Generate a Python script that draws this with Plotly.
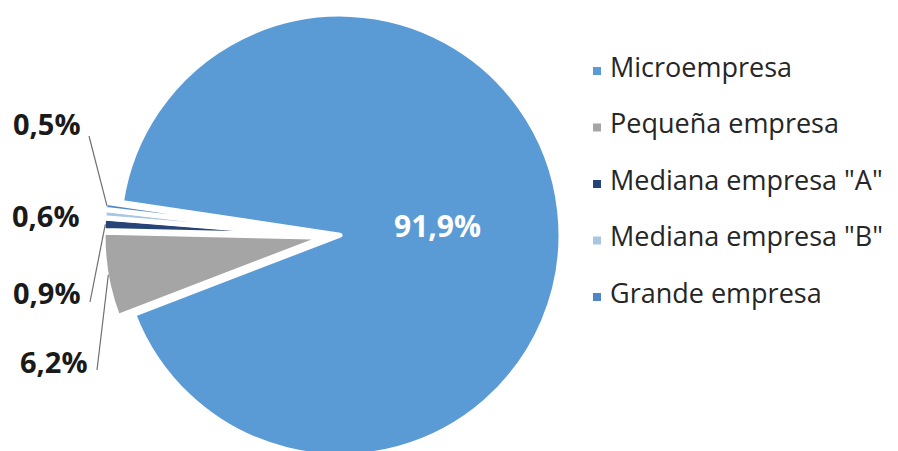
import math
import plotly.graph_objects as go

# Distribución de empresas por tamaño
categorias = ["Microempresa", "Pequeña empresa", 'Mediana empresa "A"',
              'Mediana empresa "B"', "Grande empresa"]
porcentajes = [91.9, 6.2, 0.9, 0.6, 0.5]
colores = ["#5B9BD5", "#A5A5A5", "#264478", "#A9C6E3", "#4F86C6"]

# Figure / pie geometry (pixels)
W, H = 898, 465
CX, CY = 332, 236          # pie centre before explosion
DOM_HALF = 229             # half of the pie domain height
PULL_PX = 8                # explosion distance of every slice
ROTATION = -81.5           # start edge of first slice (clockwise from 12 o'clock)

radio = DOM_HALF - PULL_PX
pull = PULL_PX / radio

def fmt(v):
    return f"{v:.1f}".replace(".", ",") + "%"

def px_to_paper(x, y):
    return x / W, 1 - y / H

fig = go.Figure(go.Pie(
    labels=categorias,
    values=porcentajes,
    sort=False,
    direction="clockwise",
    rotation=ROTATION,
    pull=[pull] * len(porcentajes),
    marker=dict(colors=colores, line=dict(color="white", width=5)),
    textinfo="none",
    hoverinfo="label+percent",
    showlegend=False,
    domain=dict(x=[(CX - 300) / W, (CX + 300) / W],
                y=[1 - (CY + DOM_HALF) / H, 1 - (CY - DOM_HALF) / H]),
))

# slice mid-angles (math convention, degrees) computed from the values
total = sum(porcentajes)
mid_angles = []
ang = ROTATION
for v in porcentajes:
    span = v / total * 360
    mid_clock = ang + span / 2
    mid_angles.append(90 - mid_clock)
    ang += span

def slice_point(i, extra=0.0):
    m = math.radians(mid_angles[i])
    sx = CX + PULL_PX * math.cos(m)
    sy = CY - PULL_PX * math.sin(m)
    rr = radio + extra
    return sx + rr * math.cos(m), sy - rr * math.sin(m)

annotations = []
shapes = []

# label of the main slice, inside
px, py = px_to_paper(437, 225)
annotations.append(dict(x=px, y=py, xref="paper", yref="paper", showarrow=False,
                        text=f"<b>{fmt(porcentajes[0])}</b>",
                        font=dict(family="Open Sans", size=30, color="white"),
                        xanchor="center", yanchor="middle"))

# outside labels of the small slices with leader lines
label_pos = {4: (47, 123), 3: (46, 215), 2: (47, 292), 1: (54, 361)}
line_start = {4: (89, 136), 2: (90, 302), 1: (97, 370)}
for i, (lx, ly) in label_pos.items():
    ax, ay = px_to_paper(lx, ly)
    annotations.append(dict(x=ax, y=ay, xref="paper", yref="paper", showarrow=False,
                            text=f"<b>{fmt(porcentajes[i])}</b>",
                            font=dict(family="Open Sans", size=29, color="#1a1a1a"),
                            xanchor="center", yanchor="middle"))
    if i in line_start:
        x0, y0 = px_to_paper(*line_start[i])
        x1, y1 = px_to_paper(*slice_point(i, -2))
        shapes.append(dict(type="line", xref="paper", yref="paper",
                           x0=x0, y0=y0, x1=x1, y1=y1,
                           line=dict(color="#6f6f6f", width=1.2)))

# legend on the right
LEG_X, LEG_Y0, LEG_DY = 597, 71, 56.5
for i, name in enumerate(categorias):
    yc = LEG_Y0 + i * LEG_DY
    x0, y0 = px_to_paper(LEG_X - 4, yc - 4)
    x1, y1 = px_to_paper(LEG_X + 4, yc + 4)
    shapes.append(dict(type="rect", xref="paper", yref="paper",
                       x0=x0, y0=y0, x1=x1, y1=y1,
                       fillcolor=colores[i], line=dict(width=0)))
    tx, ty = px_to_paper(LEG_X + 11, yc - 5)
    annotations.append(dict(x=tx, y=ty, xref="paper", yref="paper", showarrow=False,
                            text=name, xanchor="left", yanchor="middle",
                            font=dict(family="Open Sans", size=27, color="#262626")))

fig.update_layout(
    width=W, height=H,
    margin=dict(l=0, r=0, t=0, b=0),
    paper_bgcolor="white",
    plot_bgcolor="white",
    annotations=annotations,
    shapes=shapes,
)

fig.write_html("out.html",
               post_script="document.documentElement.style.overflow='hidden';"
                           "document.body.style.overflow='hidden';")
